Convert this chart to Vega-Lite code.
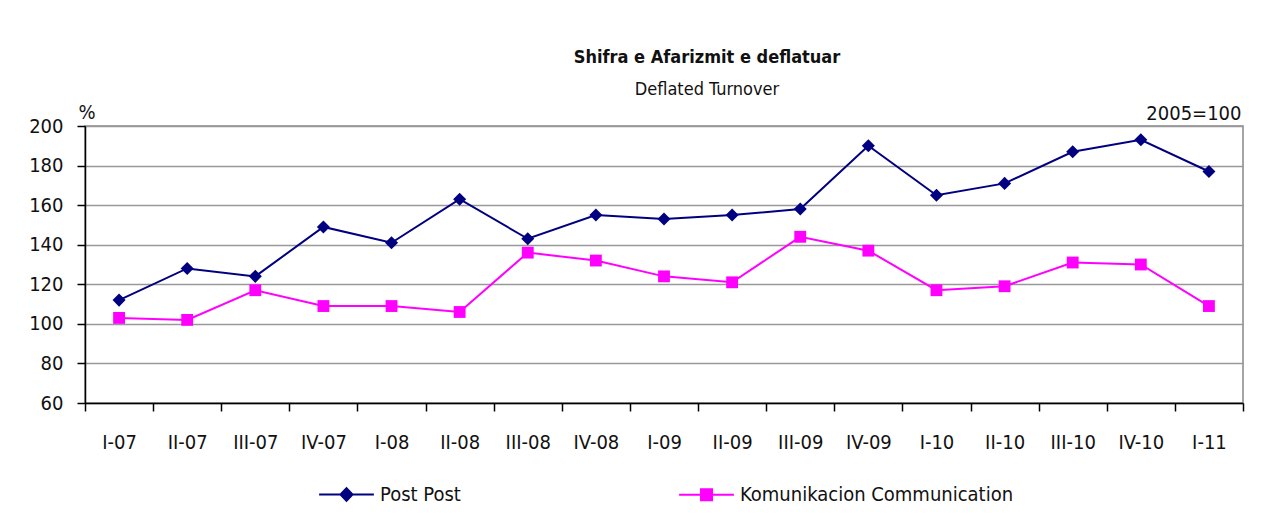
{
  "$schema": "https://vega.github.io/schema/vega-lite/v6.json",
  "width": 1158,
  "height": 277,
  "autosize": "none",
  "padding": {"left": 85, "top": 126, "right": 20, "bottom": 125},
  "background": "white",
  "title": {
    "text": "Shifra e Afarizmit e deflatuar",
    "subtitle": "Deflated Turnover",
    "anchor": "middle",
    "frame": "group",
    "dx": 43,
    "offset": 3,
    "font": "Liberation Sans Narrow, Arial Narrow, DejaVu Sans Condensed, sans-serif",
    "fontSize": 18,
    "fontWeight": "bold",
    "color": "#111",
    "subtitleFont": "Liberation Sans Narrow, Arial Narrow, DejaVu Sans Condensed, sans-serif",
    "subtitleFontSize": 18,
    "subtitleColor": "#111",
    "subtitlePadding": 14
  },
  "data": {
    "values": [
      {"q": "I-07", "series": "Post  Post", "v": 112},
      {"q": "II-07", "series": "Post  Post", "v": 128},
      {"q": "III-07", "series": "Post  Post", "v": 124},
      {"q": "IV-07", "series": "Post  Post", "v": 149},
      {"q": "I-08", "series": "Post  Post", "v": 141},
      {"q": "II-08", "series": "Post  Post", "v": 163},
      {"q": "III-08", "series": "Post  Post", "v": 143},
      {"q": "IV-08", "series": "Post  Post", "v": 155},
      {"q": "I-09", "series": "Post  Post", "v": 153},
      {"q": "II-09", "series": "Post  Post", "v": 155},
      {"q": "III-09", "series": "Post  Post", "v": 158},
      {"q": "IV-09", "series": "Post  Post", "v": 190},
      {"q": "I-10", "series": "Post  Post", "v": 165},
      {"q": "II-10", "series": "Post  Post", "v": 171},
      {"q": "III-10", "series": "Post  Post", "v": 187},
      {"q": "IV-10", "series": "Post  Post", "v": 193},
      {"q": "I-11", "series": "Post  Post", "v": 177},
      {"q": "I-07", "series": "Komunikacion  Communication", "v": 103},
      {"q": "II-07", "series": "Komunikacion  Communication", "v": 102},
      {"q": "III-07", "series": "Komunikacion  Communication", "v": 117},
      {"q": "IV-07", "series": "Komunikacion  Communication", "v": 109},
      {"q": "I-08", "series": "Komunikacion  Communication", "v": 109},
      {"q": "II-08", "series": "Komunikacion  Communication", "v": 106},
      {"q": "III-08", "series": "Komunikacion  Communication", "v": 136},
      {"q": "IV-08", "series": "Komunikacion  Communication", "v": 132},
      {"q": "I-09", "series": "Komunikacion  Communication", "v": 124},
      {"q": "II-09", "series": "Komunikacion  Communication", "v": 121},
      {"q": "III-09", "series": "Komunikacion  Communication", "v": 144},
      {"q": "IV-09", "series": "Komunikacion  Communication", "v": 137},
      {"q": "I-10", "series": "Komunikacion  Communication", "v": 117},
      {"q": "II-10", "series": "Komunikacion  Communication", "v": 119},
      {"q": "III-10", "series": "Komunikacion  Communication", "v": 131},
      {"q": "IV-10", "series": "Komunikacion  Communication", "v": 130},
      {"q": "I-11", "series": "Komunikacion  Communication", "v": 109}
    ]
  },
  "encoding": {
    "x": {
      "field": "q",
      "type": "ordinal",
      "sort": null,
      "scale": {"type": "band", "paddingInner": 0, "paddingOuter": 0},
      "axis": {
        "title": "2005=100",
        "titleX": 1156,
        "titleY": -280,
        "titleAlign": "right",
        "titleBaseline": "bottom",
        "titleAnchor": null,
        "titleFontWeight": "normal",
        "labelAngle": 0,
        "tickBand": "extent",
        "tickSize": 8,
        "labelPadding": 21,
        "domainColor": "#000",
        "domainWidth": 1.5,
        "tickColor": "#000",
        "tickWidth": 1.5,
        "grid": false
      }
    },
    "y": {
      "field": "v",
      "type": "quantitative",
      "scale": {"domain": [60, 200], "nice": false, "zero": false},
      "axis": {
        "values": [60, 80, 100, 120, 140, 160, 180, 200],
        "title": "%",
        "titleAngle": 0,
        "titleX": -7,
        "titleY": -4,
        "titleAlign": "left",
        "titleBaseline": "bottom",
        "titleAnchor": null,
        "titleFontWeight": "normal",
        "tickSize": 8,
        "labelPadding": 14,
        "domainColor": "#000",
        "domainWidth": 1.5,
        "tickColor": "#000",
        "tickWidth": 1.5,
        "grid": true,
        "gridColor": "#999",
        "gridWidth": 1.5
      }
    },
    "color": {
      "field": "series",
      "type": "nominal",
      "sort": ["Post  Post", "Komunikacion  Communication"],
      "scale": {"domain": ["Post  Post", "Komunikacion  Communication"], "range": ["#000080", "#FF00FF"]},
      "legend": {
        "title": null,
        "orient": "none",
        "direction": "horizontal",
        "legendX": 233,
        "legendY": 340,
        "columnPadding": 208,
        "symbolSize": 3000,
        "symbolStrokeWidth": 2,
        "labelOffset": 5,
        "encode": {
          "symbols": {
            "update": {
              "shape": {"signal": "datum.value == 'Post  Post' ? 'M-1,0H1M0,-0.23L0.22,0L0,0.23L-0.22,0Z' : 'M-1,0H1M-0.2,-0.2H0.2V0.2H-0.2Z'"},
              "size": {"value": 3000},
              "fill": {"scale": "color", "field": "value"},
              "stroke": {"scale": "color", "field": "value"},
              "strokeWidth": {"value": 2},
              "opacity": {"value": 1}
            }
          }
        }
      }
    }
  },
  "layer": [
    {"mark": {"type": "line", "strokeWidth": 2}},
    {
      "mark": {"type": "point", "filled": true, "opacity": 1},
      "encoding": {
        "shape": {"condition": {"test": "datum.series == 'Post  Post'", "value": "diamond"}, "value": "square"},
        "size": {"condition": {"test": "datum.series == 'Post  Post'", "value": 170}, "value": 140}
      }
    }
  ],
  "config": {
    "font": "Liberation Sans Narrow, Arial Narrow, DejaVu Sans Condensed, sans-serif",
    "view": {"stroke": "#888", "strokeWidth": 1.5},
    "axis": {
      "labelFont": "Liberation Sans Narrow, Arial Narrow, DejaVu Sans Condensed, sans-serif",
      "labelFontSize": 20,
      "labelColor": "#111",
      "titleFont": "Liberation Sans Narrow, Arial Narrow, DejaVu Sans Condensed, sans-serif",
      "titleFontSize": 20,
      "titleColor": "#111"
    },
    "legend": {
      "labelFont": "Liberation Sans Narrow, Arial Narrow, DejaVu Sans Condensed, sans-serif",
      "labelFontSize": 20,
      "labelColor": "#111",
      "labelLimit": 400
    }
  }
}
